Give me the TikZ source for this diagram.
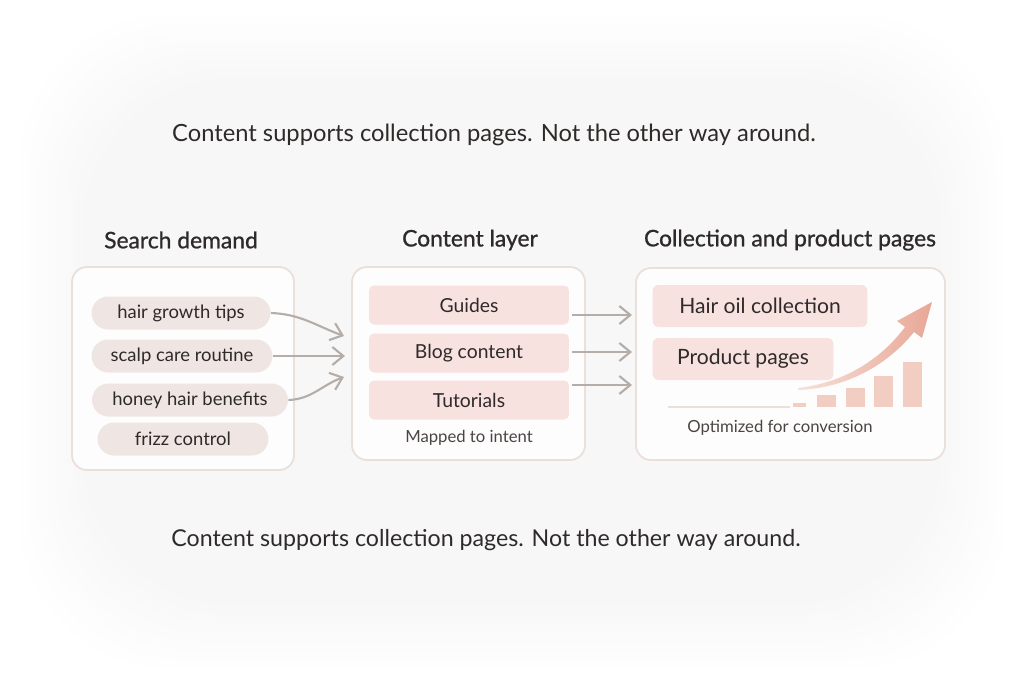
\documentclass[tikz,border=0pt]{standalone}
\usepackage{fontspec}
\setmainfont{Lato}
\newfontfamily\headfont[FakeBold=0.9]{Lato}
\usetikzlibrary{arrows.meta,positioning}

\definecolor{ink}{HTML}{2E2A29}
\definecolor{soft}{HTML}{4A4442}
\definecolor{frame}{HTML}{EBDFDA}
\definecolor{pill}{HTML}{EFE6E3}
\definecolor{rose}{HTML}{F8E2E0}
\definecolor{link}{HTML}{B5ADA8}
\definecolor{bar}{HTML}{F1CDC2}
\definecolor{barhi}{HTML}{E8A796}

\begin{document}
\begin{tikzpicture}[x=0.02cm, y=-0.02cm,
    every node/.style={text=ink, inner sep=0pt},
    panel/.style={draw=frame, line width=1pt, fill=white!60!pill!20, rounded corners=3mm},
    query/.style={fill=pill, rounded corners=3.3mm, minimum height=6.6mm, font=\fontsize{10.5}{12}\selectfont},
    piece/.style={fill=rose, rounded corners=1mm, minimum width=40mm, minimum height=7.8mm, font=\fontsize{11}{13}\selectfont},
    page/.style={fill=rose, rounded corners=1.2mm, minimum height=8.4mm, font=\fontsize{12}{14}\selectfont},
    heading/.style={font=\fontsize{13}{15}\headfont},
    caption/.style={text=soft, font=\fontsize{9.5}{11}\selectfont},
    flow/.style={draw=link, line width=1.2pt, -{Straight Barb[length=2.2mm, width=3.6mm]}}
]
\useasboundingbox (0,0) rectangle (1024,683);
\fill[white] (0,0) rectangle (1024,683);
% soft backdrop
\foreach \i in {0,...,7}
    \fill[pill, opacity=0.018, rounded corners=30mm] (20+\i*9,15+\i*9) rectangle (1004-\i*9,668-\i*9);

% tagline
\node[font=\fontsize{13.5}{16}\selectfont] (top) at (494,135) {Content supports collection pages. Not the other way around.};
\node[font=\fontsize{13.2}{16}\selectfont] (bottom) at (486,540) {Content supports collection pages. Not the other way around.};

% (1) search demand
\node[heading] (h1) at (181,240) {Search demand};
\draw[panel] (72,267) rectangle (294,470);
\node[query, minimum width=35.8mm] (q1) at (181,313) {hair growth tips};
\node[query, minimum width=36.2mm] (q2) at (182,356) {scalp care routine};
\node[query, minimum width=39.2mm] (q3) at (190,400) {honey hair benefits};
\node[query, minimum width=34.2mm] (q4) at (183,439) {frizz control};

% (2) content layer
\node[heading] (h2) at (470,240) {Content layer};
\draw[panel] (352,267) rectangle (585,460);
\node[piece] (guides) at (469,305) {Guides};
\node[piece] (blog) at (469,353) {Blog content};
\node[piece] (tuts) at (469,400) {Tutorials};
\node[caption] (intent) at (469,438) {Mapped to intent};

% (3) collection and product pages
\node[heading] (h3) at (790,240) {Collection and product pages};
\draw[panel] (636,268) rectangle (945,460);
\node[page, minimum width=43mm] (oil) at (760,306) {Hair oil collection};
\node[page, minimum width=36.2mm] (prod) at (743,359) {Product pages};
\node[caption] (conv) at (780,428) {Optimized for conversion};

% growth chart
\draw[frame, line width=0.8pt] (668,407) -- (790,407);
\foreach \x/\w/\t in {793/13/403, 817/19/395, 846/19/388, 874/19/376, 903/19/362}
    \fill[bar] (\x,\t) rectangle (\x+\w,407);
\shade[left color=bar!60, right color=barhi]
    (798,388) .. controls (850,382) and (885,354) .. (905,327)
    -- (897,321) -- (932,302) -- (922,338) -- (914,332)
    .. controls (890,362) and (850,388) .. (798,390) -- cycle;

% links into the content layer
\coordinate (in1) at (344,336);
\coordinate (in2) at (345,356);
\coordinate (in3) at (344,377);
\draw[flow] (q1.east) to[out=-2, in=160] (in1);
\draw[flow] (q2.east) -- (in2);
\draw[flow] (q3.east) to[out=2, in=200] (in3);

% links into the pages panel
\coordinate (out1) at (632,315);
\coordinate (out2) at (632,352);
\coordinate (out3) at (632,385);
\draw[flow] (guides.east |- out1) ++(3,0) -- (out1);
\draw[flow] (blog.east |- out2) ++(3,0) -- (out2);
\draw[flow] (tuts.east |- out3) ++(3,0) -- (out3);
\end{tikzpicture}
\end{document}
